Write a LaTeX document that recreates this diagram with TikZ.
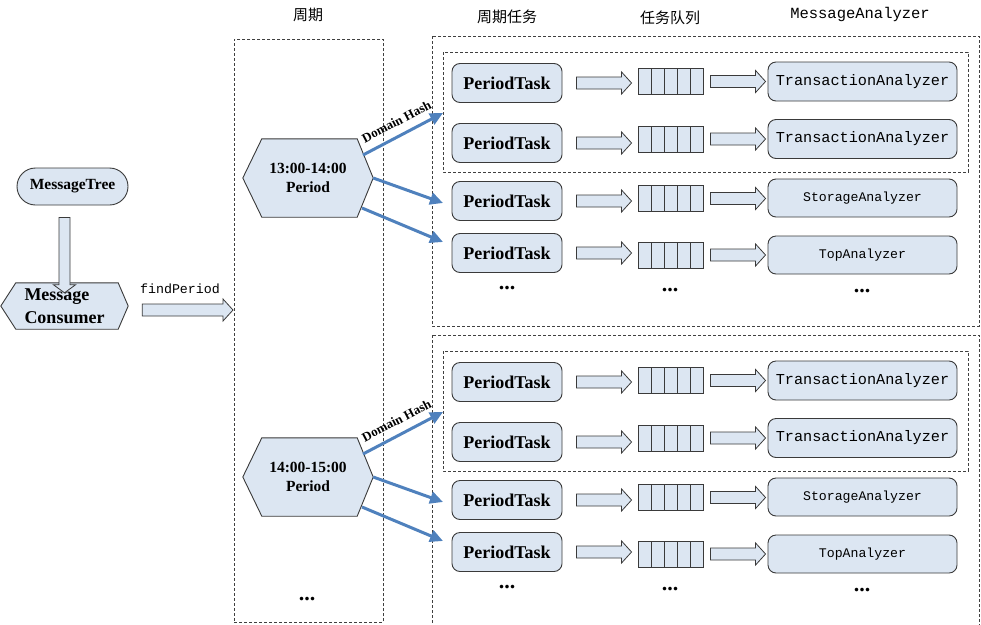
\documentclass[tikz,border=0pt]{standalone}
\usepackage{fontspec}
\setmainfont{Liberation Serif}
\setmonofont{Liberation Mono}
\newfontfamily\cjk{Noto Sans CJK SC}
\usetikzlibrary{arrows.meta,calc,backgrounds,shapes.misc}

\definecolor{boxfill}{HTML}{DCE6F2}
\definecolor{arrowblue}{HTML}{4F81BD}
\definecolor{dashgray}{HTML}{404040}
\definecolor{edge}{HTML}{3A3A3A}

\tikzset{
  dbox/.style={draw=dashgray, line width=0.8pt, dash pattern=on 3pt off 2pt},
  taskbox/.style={draw=edge, line width=0.9pt, fill=boxfill, rounded corners=8pt,
    minimum width=110pt, minimum height=39pt, inner sep=0pt,
    font=\fontsize{18}{20}\selectfont\bfseries},
  anbox/.style={draw=edge, line width=0.9pt, fill=boxfill, rounded corners=8pt,
    minimum width=189pt, minimum height=39pt, inner sep=0pt},
  qbox/.style={draw=edge, line width=0.9pt, fill=boxfill, minimum width=65pt,
    minimum height=26pt, inner sep=0pt,
    path picture={\foreach \i in {1,...,4}{\draw[edge, line width=0.9pt]
      ($(path picture bounding box.south west)!\i/5!(path picture bounding box.south east)$) --
      ($(path picture bounding box.north west)!\i/5!(path picture bounding box.north east)$);}}},
  blk/.style={draw=edge, line width=0.8pt, fill=boxfill},
  bluearrow/.style={draw=arrowblue, line width=3pt, -{Triangle[length=13pt,width=12pt]}},
  hexnode/.style={minimum width=130pt, minimum height=78pt, inner sep=0pt, align=center,
    font=\fontsize{15.5}{19}\selectfont\bfseries},
  hexshape/.style={draw=edge, line width=0.9pt, fill=boxfill},
  dotsty/.style={font=\fontsize{22}{22}\selectfont\bfseries, anchor=base, inner sep=0pt},
  hdr/.style={font=\cjk\fontsize{15}{15}\selectfont},
  hdrmono/.style={font=\ttfamily\fontsize{15.5}{15.5}\selectfont},
}

\newcommand\blockarr[2]{\draw[blk] let \p1=(#1), \p2=(#2) in
  (\x1,\y1+6pt) -- (\x2-10pt,\y1+6pt) -- (\x2-10pt,\y1+11pt) -- (\x2,\y1) --
  (\x2-10pt,\y1-11pt) -- (\x2-10pt,\y1-6pt) -- (\x1,\y1-6pt) -- cycle;}

\begin{document}
\begin{tikzpicture}[x=1pt,y=-1pt]
\useasboundingbox (0,0) rectangle (981,624);

% headers
\node[hdr] (hd1) at (308,15) {周期};
\node[hdr] (hd2) at (507,17) {周期任务};
\node[hdr] (hd3) at (670,18) {任务队列};
\node[hdrmono] (hd4) at (860,14) {MessageAnalyzer};

% left part
\node[rounded rectangle, draw=edge, line width=0.9pt, fill=boxfill, minimum width=111pt,
  minimum height=37pt, inner sep=0pt, font=\fontsize{15.5}{18}\selectfont\bfseries]
  (mt) at (72.5,186.5) {MessageTree};
\node[minimum width=127pt, minimum height=46pt, inner sep=0pt, align=left,
  font=\fontsize{18}{23}\selectfont\bfseries] (mc) at (64.5,306) {Message\\Consumer};
\begin{scope}[on background layer]
  \draw[hexshape] (mc.west) -- ([xshift=15pt]mc.north west) -- ([xshift=-10pt]mc.north east)
    -- (mc.east) -- ([xshift=-10pt]mc.south east) -- ([xshift=15pt]mc.south west) -- cycle;
\end{scope}
\draw[blk] let \p1=([yshift=-12pt]mt.south), \p2=([yshift=-10pt]mc.north) in
  (\x2-5.5pt,\y1) -- (\x2-5.5pt,\y2+8pt) -- (\x2-11pt,\y2+8pt) -- (\x2,\y2) --
  (\x2+11pt,\y2+8pt) -- (\x2+5.5pt,\y2+8pt) -- (\x2+5.5pt,\y1) -- cycle;

% period column
\node[dbox, anchor=north west, minimum width=149pt, minimum height=583pt, inner sep=0pt]
  (colP) at (234,39) {};
\blockarr{[xshift=14pt,yshift=-4pt]mc.east}{[xshift=-1pt]colP.west}
\node[font=\ttfamily\fontsize{13.3}{14}\selectfont] (fp) at (180,289) {findPeriod};
\node[dotsty] (pdots) at (307,600) {...};

\foreach \s/\dy/\per in {a/0/13:00-14:00, b/299/14:00-15:00}{
  \draw[dbox] (432,36+\dy) rectangle (979,326+\dy);
  \draw[dbox] (443,52+\dy) rectangle (968,172+\dy);
  \node[hexnode] (h\s) at (308,178+\dy) {\per\\Period};
  \begin{scope}[on background layer]
    \draw[hexshape] (h\s.west) -- ([xshift=19pt]h\s.north west) -- ([xshift=-16pt]h\s.north east)
      -- (h\s.east) -- ([xshift=-16pt]h\s.south east) -- ([xshift=19pt]h\s.south west) -- cycle;
  \end{scope}
  % tasks
  \node[taskbox] (pa\s) at (507,83+\dy) {PeriodTask};
  \node[taskbox] (pb\s) at (507,143+\dy) {PeriodTask};
  \node[taskbox] (pc\s) at (507,201+\dy) {PeriodTask};
  \node[taskbox] (pd\s) at (507,253+\dy) {PeriodTask};
  % queues
  \node[qbox] (qa\s) at (670.5,81.5+\dy) {};
  \node[qbox] (qb\s) at (670.5,139+\dy) {};
  \node[qbox] (qc\s) at (670.5,198.5+\dy) {};
  \node[qbox] (qd\s) at (670.5,255+\dy) {};
  % analyzers
  \node[anbox, font=\ttfamily\fontsize{15.2}{16}\selectfont] (aa\s) at (862.5,81.5+\dy) {TransactionAnalyzer};
  \node[anbox, font=\ttfamily\fontsize{15.2}{16}\selectfont] (ab\s) at (862.5,139+\dy) {TransactionAnalyzer};
  \node[anbox, minimum height=38pt, font=\ttfamily\fontsize{13.2}{14}\selectfont] (ac\s) at (862.5,198+\dy) {StorageAnalyzer};
  \node[anbox, minimum height=38pt, font=\ttfamily\fontsize{13.2}{14}\selectfont] (ad\s) at (862.5,255+\dy) {TopAnalyzer};
  % block arrows
  \foreach \r in {a,b,c,d}{
    \blockarr{[xshift=14pt]p\r\s.east}{[xshift=-6pt]q\r\s.west}
    \blockarr{[xshift=7pt]q\r\s.east}{[xshift=-2pt]a\r\s.west}
  }
  % dots
  \node[dotsty] (da\s) at (507,289+\dy) {...};
  \node[dotsty] (db\s) at (670,291+\dy) {...};
  \node[dotsty] (dc\s) at (862,292+\dy) {...};
  % blue arrows
  \coordinate (ea\s) at (443,113+\dy);
  \coordinate (eb\s) at (443,203+\dy);
  \coordinate (ec\s) at (443,242+\dy);
  \draw[bluearrow] ([shift={(55,-23)}]h\s.center) -- node[sloped, pos=0.5, above=8pt, inner sep=0pt,
    font=\fontsize{13}{13}\selectfont\bfseries] {Domain Hash} (ea\s);
  \draw[bluearrow] (h\s.east) -- (eb\s);
  \draw[bluearrow] ([shift={(54,30)}]h\s.center) -- (ec\s);
}
\end{tikzpicture}
\end{document}
